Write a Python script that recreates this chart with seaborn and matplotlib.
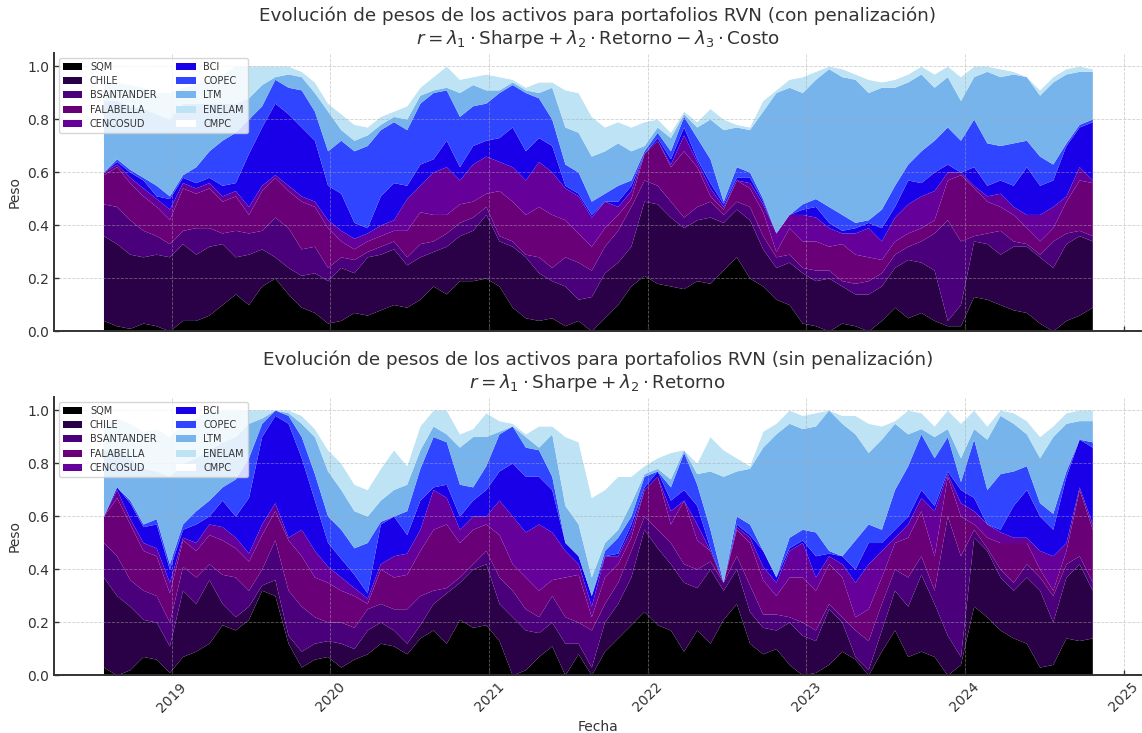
import numpy as np
import pandas as pd
import matplotlib
matplotlib.use("Agg")
import matplotlib.pyplot as plt
import matplotlib.dates as mdates
import seaborn as sns

# Activos del portafolio (orden de apilado, de abajo hacia arriba) y sus colores
activos = ["SQM", "CHILE", "BSANTANDER", "FALABELLA", "CENCOSUD",
           "BCI", "COPEC", "LTM", "ENELAM", "CMPC"]
colores = ["#000000", "#2a0046", "#4a007a", "#6a0078", "#66009a",
           "#1a00e8", "#2f45ff", "#78b4ec", "#bee3f5", "#ffffff"]

# Fechas de rebalanceo (aprox. mensual)
fechas = pd.date_range("2018-07-27", "2024-10-21", periods=76)

# Peso acumulado hasta cada activo (límite superior de su banda).
# CMPC completa hasta 1.0.
# --- RVN con penalización ---
con_sqm = [.04,.02,.01,.03,.02,.00,.04,.04,.06,.10, .14,.10,.17,.20,.14,.09,.07,.03,.04,.07,
           .06,.08,.10,.09,.12,.17,.14,.19,.19,.20, .17,.09,.05,.04,.05,.02,.04,.00,.05,.10,
           .17,.21,.18,.17,.16,.19,.18,.23,.28,.20, .17,.12,.10,.03,.02,.00,.03,.02,.00,.04,
           .09,.05,.07,.04,.02,.02,.13,.12,.10,.08, .07,.03,.00,.04,.06,.09]
con_chile = [.36,.33,.29,.28,.29,.28,.33,.29,.32,.33, .28,.29,.31,.28,.24,.21,.22,.19,.24,.22,
             .28,.29,.31,.25,.28,.30,.32,.36,.38,.44, .34,.32,.28,.22,.19,.17,.12,.13,.22,.26,
             .32,.49,.48,.43,.39,.42,.43,.41,.46,.42, .31,.24,.26,.22,.19,.20,.17,.14,.14,.17,
             .24,.27,.26,.23,.04,.10,.34,.33,.29,.32, .32,.28,.24,.33,.36,.34]
con_bsantander = [.48,.47,.42,.38,.36,.33,.38,.39,.39,.37, .38,.37,.38,.43,.39,.31,.32,.24,.28,.27,
                  .30,.32,.34,.28,.33,.34,.37,.41,.43,.47, .36,.34,.29,.28,.24,.28,.26,.23,.32,.38,
                  .47,.57,.55,.49,.43,.47,.49,.44,.49,.47, .36,.28,.29,.24,.23,.23,.19,.18,.19,.22,
                  .29,.32,.34,.37,.42,.34,.36,.37,.38,.34, .33,.29,.34,.37,.38,.36]
con_falabella = [.59,.62,.56,.51,.47,.42,.54,.52,.54,.49, .51,.44,.53,.58,.53,.49,.47,.39,.34,.31,
                 .34,.36,.38,.38,.45,.44,.44,.48,.49,.52, .53,.49,.44,.47,.44,.42,.37,.32,.39,.44,
                 .50,.67,.72,.62,.68,.62,.51,.46,.57,.54, .45,.30,.39,.34,.34,.32,.33,.29,.28,.27,
                 .34,.37,.39,.42,.57,.59,.54,.49,.47,.44, .39,.34,.39,.49,.57,.56]
con_cencosud = [.60,.63,.58,.54,.50,.46,.56,.54,.56,.51, .53,.47,.55,.59,.55,.51,.49,.42,.38,.35,
                .37,.40,.42,.50,.55,.60,.62,.57,.63,.66, .64,.62,.57,.64,.60,.54,.51,.43,.49,.47,
                .53,.67,.72,.63,.74,.64,.54,.47,.57,.56, .48,.37,.44,.44,.43,.39,.37,.37,.39,.34,
                .43,.48,.51,.53,.60,.60,.55,.51,.52,.47, .44,.44,.47,.51,.62,.57]
con_bci = [.60,.64,.60,.57,.51,.50,.58,.56,.58,.55, .56,.67,.77,.86,.82,.77,.72,.55,.52,.41,
           .39,.51,.56,.55,.63,.65,.72,.62,.70,.72, .73,.77,.68,.73,.70,.55,.52,.44,.49,.49,
           .55,.67,.73,.65,.77,.65,.56,.48,.58,.58, .49,.37,.44,.46,.47,.41,.38,.39,.41,.39,
           .47,.57,.56,.60,.63,.60,.62,.55,.57,.55, .62,.55,.57,.70,.77,.79]
con_copec = [.60,.65,.61,.58,.55,.51,.59,.62,.68,.72, .75,.80,.85,.95,.92,.91,.83,.68,.72,.68,
             .70,.76,.79,.76,.86,.90,.91,.81,.85,.86, .90,.93,.90,.88,.80,.63,.60,.49,.52,.55,
             .57,.68,.75,.68,.81,.73,.65,.49,.62,.60, .50,.37,.44,.48,.50,.47,.44,.41,.42,.46,
             .55,.63,.68,.72,.77,.72,.80,.71,.70,.71, .72,.66,.63,.71,.78,.80]
con_ltm = [.87,.87,.85,.84,.82,.80,.86,.86,.86,.86, .86,.88,.93,.96,.97,.96,.90,.83,.76,.72,
           .74,.78,.81,.80,.89,.91,.92,.90,.93,.91, .91,.94,.91,.90,.92,.77,.75,.66,.68,.71,
           .68,.70,.77,.73,.82,.77,.80,.76,.77,.76, .83,.90,.92,.90,.95,.99,.96,.95,.90,.92,
           .92,.94,.97,.92,.96,.87,.96,.98,.96,.97, .96,.89,.94,.97,.98,.98]
con_enelam = [.94,.94,.93,.92,.90,.90,.92,.93,.95,.97, 1.0,1.0,1.0,1.0,1.0,.98,.94,.86,.82,.78,
              .77,.81,.83,.85,.92,.96,1.0,.95,.96,.97, .96,.95,.92,.94,.94,.91,.90,.81,.77,.79,
              .77,.79,.80,.75,.83,.79,.84,.80,.78,.77, .87,.91,.95,.96,.98,1.0,.99,.97,.95,.94,
              .95,.97,1.0,.97,1.0,.96,1.0,1.0,.99,.98, .96,.91,.96,.99,1.0,.99]

# --- RVN sin penalización ---
sin_sqm = [.03,.00,.02,.07,.06,.01,.07,.09,.12,.19, .17,.21,.32,.30,.12,.03,.06,.07,.03,.06,
           .08,.12,.11,.08,.14,.17,.12,.21,.18,.19, .13,.00,.02,.07,.11,.00,.08,.00,.09,.14,
           .19,.24,.19,.17,.09,.17,.12,.21,.27,.12, .08,.10,.04,.00,.01,.04,.09,.06,.00,.09,
           .17,.07,.09,.07,.00,.04,.26,.22,.17,.14, .12,.03,.04,.14,.13,.14]
sin_chile = [.37,.30,.26,.21,.20,.11,.32,.27,.36,.27, .22,.26,.34,.36,.15,.09,.12,.13,.12,.10,
             .17,.20,.17,.12,.19,.27,.31,.35,.40,.42, .27,.22,.17,.16,.20,.12,.12,.03,.20,.27,
             .37,.55,.48,.42,.35,.33,.40,.32,.40,.24, .18,.17,.20,.15,.13,.25,.20,.07,.02,.17,
             .32,.26,.38,.27,.15,.07,.52,.47,.37,.32, .37,.32,.20,.37,.42,.32]
sin_bsantander = [.50,.45,.36,.32,.30,.20,.41,.37,.42,.38, .37,.32,.40,.51,.32,.26,.22,.20,.20,.18,
                  .25,.27,.25,.25,.30,.32,.33,.37,.42,.47, .37,.32,.25,.22,.30,.22,.20,.17,.27,.35,
                  .47,.60,.55,.50,.42,.40,.43,.35,.45,.34, .23,.23,.22,.20,.17,.27,.22,.17,.13,.27,
                  .40,.37,.45,.32,.60,.45,.55,.48,.40,.35, .42,.37,.30,.42,.45,.35]
sin_falabella = [.60,.67,.57,.47,.45,.31,.51,.47,.53,.51, .48,.43,.53,.62,.51,.45,.37,.35,.32,.30,
                 .27,.40,.37,.38,.47,.55,.57,.50,.55,.57, .53,.42,.37,.32,.36,.37,.38,.22,.37,.42,
                 .52,.70,.75,.57,.66,.51,.47,.35,.55,.50, .36,.30,.37,.37,.32,.42,.37,.22,.25,.37,
                 .50,.52,.62,.45,.75,.60,.57,.52,.50,.50, .50,.40,.32,.47,.70,.55]
sin_cencosud = [.60,.70,.59,.50,.48,.35,.52,.50,.57,.56, .52,.46,.57,.65,.52,.55,.47,.41,.37,.33,
                .29,.42,.45,.46,.55,.70,.67,.55,.60,.60, .66,.60,.54,.57,.54,.47,.42,.26,.45,.45,
                .55,.70,.75,.62,.66,.57,.47,.35,.56,.52, .41,.35,.47,.50,.37,.45,.42,.35,.42,.47,
                .52,.57,.67,.62,.76,.65,.62,.57,.54,.52, .52,.47,.45,.50,.71,.57]
sin_bci = [.60,.71,.65,.56,.57,.40,.55,.57,.60,.66, .60,.67,.90,.98,.95,.82,.66,.50,.44,.38,
           .31,.57,.60,.53,.66,.71,.72,.60,.66,.70, .77,.80,.75,.75,.70,.50,.45,.30,.45,.46,
           .57,.71,.77,.66,.70,.64,.48,.35,.57,.53, .47,.37,.48,.51,.45,.46,.45,.40,.50,.50,
           .55,.60,.70,.64,.77,.70,.67,.57,.55,.64, .70,.60,.55,.75,.89,.86]
sin_copec = [.60,.71,.66,.57,.59,.42,.57,.62,.66,.71, .74,.82,.95,1.0,.98,.90,.76,.60,.55,.48,
             .50,.58,.60,.62,.78,.90,.88,.72,.71,.79, .91,.94,.86,.85,.75,.50,.45,.30,.47,.52,
             .60,.75,.77,.71,.84,.72,.55,.35,.60,.57, .47,.37,.52,.55,.54,.47,.45,.51,.57,.55,
             .70,.79,.91,.82,.90,.73,.89,.70,.76,.77, .79,.65,.61,.77,.89,.88]
sin_ltm = [.85,.85,.82,.78,.77,.75,.80,.82,.85,.88, .90,.95,.97,1.0,.99,.95,.90,.77,.70,.62,
           .60,.66,.70,.72,.85,.94,.91,.86,.90,.90, .92,.94,.90,.86,.91,.64,.57,.37,.50,.55,
           .65,.76,.78,.74,.85,.76,.77,.75,.77,.78, .86,.91,.95,.93,.94,1.0,.95,.91,.84,.89,
           .95,.91,.93,.90,.93,.82,.93,.89,.98,.95, .91,.82,.90,.95,.96,.96]
sin_enelam = [.95,.97,.95,.92,.93,.90,.95,.97,1.0,1.0, 1.0,1.0,1.0,1.0,1.0,.98,.93,.85,.80,.72,
              .70,.78,.85,.79,.94,1.0,1.0,.91,.93,.99, .96,.95,.91,.94,.94,.90,.88,.67,.70,.75,
              .75,.79,.82,.84,.85,.80,.90,.85,.82,.79, .92,.95,1.0,.98,.99,1.0,.98,.98,.95,.94,
              .96,1.0,.99,.94,1.0,.95,1.0,.94,1.0,.99, .96,.90,.94,.99,1.0,1.0]

niveles_con = [con_sqm, con_chile, con_bsantander, con_falabella, con_cencosud,
               con_bci, con_copec, con_ltm, con_enelam]
niveles_sin = [sin_sqm, sin_chile, sin_bsantander, sin_falabella, sin_cencosud,
               sin_bci, sin_copec, sin_ltm, sin_enelam]

titulo_con = ("Evolución de pesos de los activos para portafolios RVN (con penalización)\n"
              r"$r = \lambda_1 \cdot \mathrm{Sharpe} + \lambda_2 \cdot \mathrm{Retorno}"
              r" - \lambda_3 \cdot \mathrm{Costo}$")
titulo_sin = ("Evolución de pesos de los activos para portafolios RVN (sin penalización)\n"
              r"$r = \lambda_1 \cdot \mathrm{Sharpe} + \lambda_2 \cdot \mathrm{Retorno}$")


def pesos_desde_niveles(niveles):
    """Convierte los límites acumulados en el peso de cada activo (incluye CMPC)."""
    n = len(fechas)
    acum = np.vstack([np.zeros(n)] + [np.asarray(v, float) for v in niveles] + [np.ones(n)])
    acum = np.maximum.accumulate(acum, axis=0)
    return np.clip(np.diff(acum, axis=0), 0, None)


sns.set_theme(style="white", rc={
    "axes.edgecolor": "#333333",
    "axes.linewidth": 1.4,
    "xtick.color": "#333333",
    "ytick.color": "#333333",
    "text.color": "#333333",
    "axes.labelcolor": "#333333",
})
plt.rcParams["font.family"] = ["DejaVu Sans"]

fig = plt.figure(figsize=(11.42, 7.33), dpi=100)
ax_top = fig.add_axes([0.0473, 0.5484, 0.9525, 0.3796])
ax_bot = fig.add_axes([0.0473, 0.0791, 0.9525, 0.3796], sharex=ax_top)


def dibujar(ax, niveles, titulo):
    pesos = pesos_desde_niveles(niveles)
    ax.stackplot(fechas, pesos, labels=activos, colors=colores, linewidth=0)
    ax.set_ylim(0, 1.05)
    ax.set_yticks([0.0, 0.2, 0.4, 0.6, 0.8, 1.0])
    ax.set_title(titulo, fontsize=13.2, color="#333333", pad=6)
    ax.set_ylabel("Peso", fontsize=10)
    ax.grid(True, linestyle="--", linewidth=0.6, color="#a8a8a8", alpha=0.55)
    ax.set_axisbelow(False)
    ax.tick_params(axis="both", direction="in", length=3.5, width=1,
                   labelsize=10, bottom=True, left=True)
    leg = ax.legend(loc="upper left", ncol=2, fontsize=7, framealpha=0.8,
                    labelspacing=0.45, borderpad=0.4, columnspacing=2.0)
    leg.get_frame().set_edgecolor("#cccccc")
    sns.despine(ax=ax)


dibujar(ax_top, niveles_con, titulo_con)
dibujar(ax_bot, niveles_sin, titulo_sin)

ax_bot.xaxis.set_major_locator(mdates.YearLocator())
ax_bot.xaxis.set_major_formatter(mdates.DateFormatter("%Y"))
ax_top.tick_params(labelbottom=False)
for lbl in ax_bot.get_xticklabels():
    lbl.set_rotation(45)
ax_bot.set_xlabel("Fecha", fontsize=10)

fig.savefig("out.png", dpi=100)
